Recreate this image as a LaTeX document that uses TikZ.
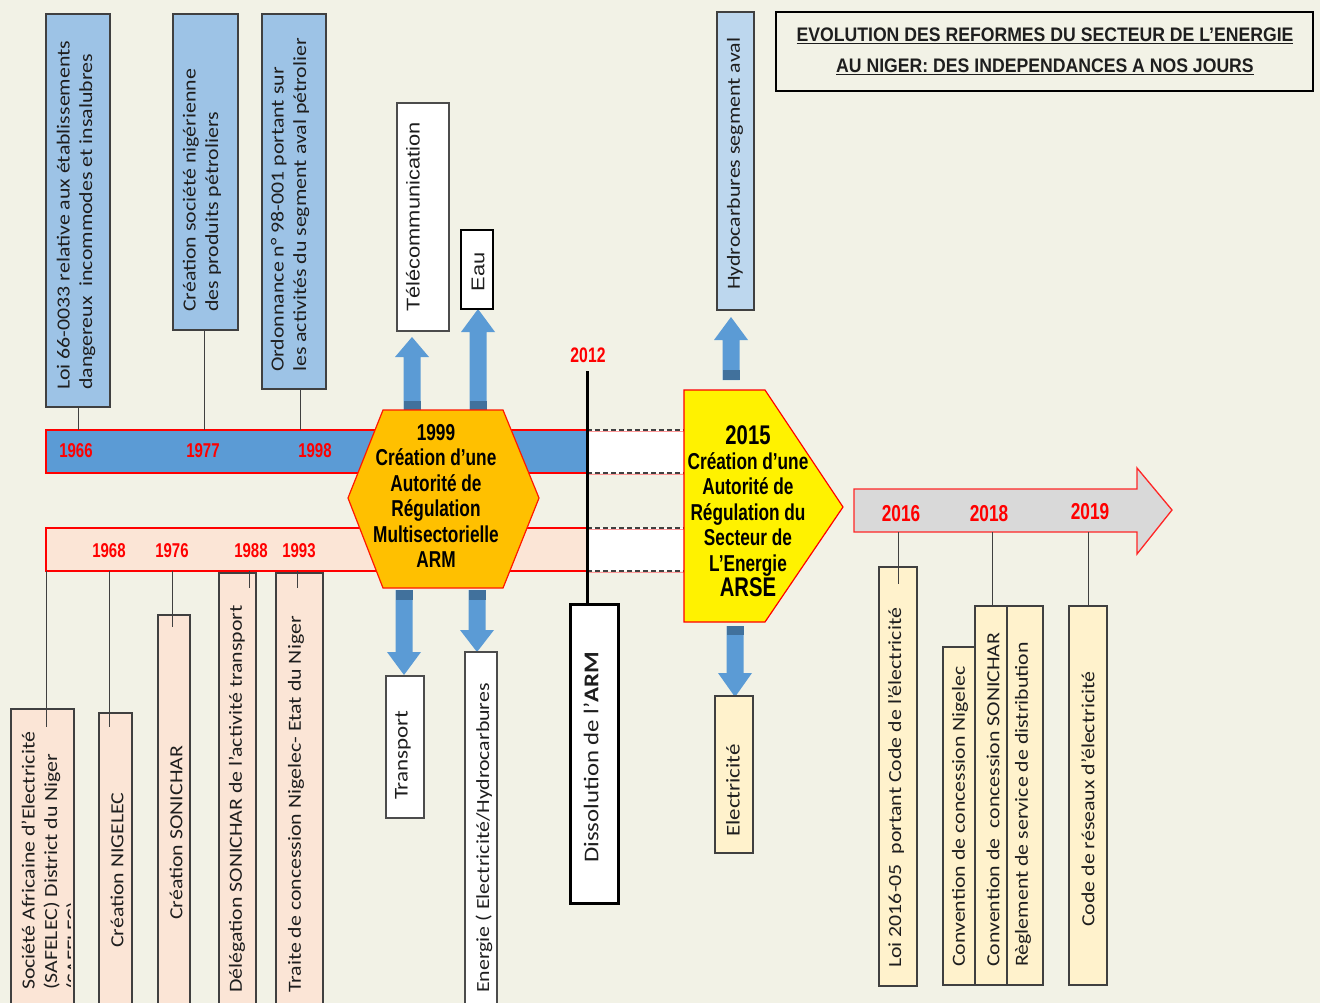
\documentclass[tikz,border=0pt]{standalone}
\usepackage{fontspec}
\setmainfont{Liberation Sans}
\newfontfamily\rotf[FakeStretch=1.18]{Carlito}
\newfontfamily\rotarial[FakeStretch=1.18]{Liberation Sans}
\newfontfamily\narrowf[FakeStretch=0.75]{Liberation Sans}
\newfontfamily\titlef[FakeStretch=0.9]{Liberation Sans}
\definecolor{bgc}{RGB}{242,242,230}
\definecolor{barblue}{RGB}{91,155,213}
\definecolor{arrowblue}{RGB}{91,155,213}
\definecolor{arrowdark}{RGB}{65,113,156}
\definecolor{lblue}{RGB}{157,195,230}
\definecolor{llblue}{RGB}{189,215,238}
\definecolor{barpink}{RGB}{251,229,214}
\definecolor{creamc}{RGB}{255,242,204}
\definecolor{hexor}{RGB}{255,192,0}
\definecolor{redc}{RGB}{255,0,0}
\definecolor{bordc}{RGB}{64,64,64}
\definecolor{txtc}{RGB}{30,30,30}
\definecolor{grayarr}{RGB}{217,217,217}
\newcommand\mkbox[6]{\node[#1, minimum width={(#5)-(#3)}, minimum height={(#6)-(#4)}] (#2) at ({((#3)+(#5))/2},{((#4)+(#6))/2}) {};}
\newcommand\blockarr[5]{%
  \fill[arrowblue] ({#1-8.5},#2) -- ({#1-8.5},#3) -- ({#1-17},#3) -- (#1,#4) -- ({#1+17},#3) -- ({#1+8.5},#3) -- ({#1+8.5},#2) -- cycle;
  \fill[arrowdark] ({#1-8.5},#2) rectangle ({#1+8.5},#5);}
\begin{document}
\begin{tikzpicture}[x=1pt,y=-1pt,
  boxbase/.style={inner sep=0pt, outer sep=0pt, draw=bordc, line width=1.1pt},
  lbbox/.style={boxbase, fill=lblue},
  pkbox/.style={boxbase, fill=barpink},
  crbox/.style={boxbase, fill=creamc},
  whbox/.style={boxbase, fill=white, draw=black!70},
  bar/.style={inner sep=0pt, outer sep=0pt, draw=redc, line width=1.3pt},
  conn/.style={draw=bordc, line width=1pt},
  dashline/.style={draw=black!75, line width=1.2pt, dash pattern=on 5pt off 3pt},
  rottxt/.style={rotate=90, inner sep=0pt, align=left, anchor=west, text=txtc, font=\rotf\fontsize{18.5}{22.5}\selectfont},
  rotar/.style={rotate=90, inner sep=0pt, align=left, anchor=west, text=txtc, font=\rotarial\fontsize{18.5}{22.5}\selectfont},
  yrlab/.style={inner sep=0pt, text=redc, font=\narrowf\bfseries\fontsize{20}{22}\selectfont},
  yrbig/.style={inner sep=0pt, text=redc, font=\narrowf\bfseries\fontsize{23}{25}\selectfont},
  hextxt/.style={inner sep=0pt, align=center, text=black, font=\narrowf\bfseries\fontsize{23}{25.4}\selectfont},
  titletxt/.style={inner sep=0pt, text=txtc, font=\titlef\bfseries\fontsize{19.6}{22}\selectfont}
]
\useasboundingbox (0,0) rectangle (1320,1003);
\clip (0,0) rectangle (1320,1003);
\fill[bgc] (0,0) rectangle (1320,1003);

% ---------- bars ----------
\mkbox{bar, fill=barblue}{topbar}{46}{430}{587}{473}
\mkbox{bar, fill=barpink}{lowbar}{46}{528}{587}{571}
\mkbox{fill=white, inner sep=0pt, outer sep=0pt}{gap1}{587}{430}{684}{473}
\mkbox{fill=white, inner sep=0pt, outer sep=0pt}{gap2}{587}{528}{684}{571}
\draw[redc!40, line width=1pt] ([yshift=-1.5pt]gap1.north west) -- ([yshift=-1.5pt]gap1.north east);
\draw[redc!40, line width=1pt] ([yshift=-1.5pt]gap1.south west) -- ([yshift=-1.5pt]gap1.south east);
\draw[redc!40, line width=1pt] ([yshift=-1.5pt]gap2.north west) -- ([yshift=-1.5pt]gap2.north east);
\draw[redc!40, line width=1pt] ([yshift=-1.5pt]gap2.south west) -- ([yshift=-1.5pt]gap2.south east);
\draw[dashline] (gap1.north west) -- (gap1.north east);
\draw[dashline] (gap1.south west) -- (gap1.south east);
\draw[dashline] (gap2.north west) -- (gap2.north east);
\draw[dashline] (gap2.south west) -- (gap2.south east);

\node[yrlab] (y1966) at (76,451) {1966};
\node[yrlab] (y1977) at (203,451) {1977};
\node[yrlab] (y1998) at (315,451) {1998};
\node[yrlab] (y1968) at (109,551) {1968};
\node[yrlab] (y1976) at (172,551) {1976};
\node[yrlab] (y1988) at (251,551) {1988};
\node[yrlab] (y1993) at (299,551) {1993};

% ---------- top boxes ----------
\mkbox{lbbox}{b66}{46}{14}{110}{407}
\mkbox{lbbox}{b77}{173}{14}{238}{330}
\mkbox{lbbox}{b98}{262}{14}{326}{389}
\draw[conn] (b66.south) -- (b66.south |- topbar.north);
\draw[conn] ([xshift=-1.5pt]b77.south) -- ([xshift=-1.5pt]b77.south |- topbar.north);
\draw[conn] ([xshift=6pt]b98.south) -- ([xshift=6pt]b98.south |- topbar.north);
\node[rottxt] (t66) at (76,390) {Loi 66-0033 relative aux établissements\\dangereux\ \ incommodes et insalubres};
\node[rottxt] (t77) at (202,312) {Création société nigérienne\\des produits pétroliers};
\node[rottxt] (t98) at (290,372) {Ordonnance n° 98-001 portant sur\\les activités du segment aval pétrolier};

% ---------- lower left boxes ----------
\mkbox{pkbox}{bsaf}{11}{709}{74}{1012}
\mkbox{pkbox}{bnig}{99}{713}{132}{1012}
\mkbox{pkbox}{bsoni}{158}{615}{190}{1012}
\mkbox{pkbox}{bdel}{219}{573}{256}{1012}
\mkbox{pkbox}{btra}{276}{573}{323}{1012}
\draw[conn] (lowbar.south west) -- ([yshift=-18pt]lowbar.south west |- bsaf.north);
\draw[conn] (y1968.south |- lowbar.south) -- ([yshift=-14pt]y1968.south |- bnig.north);
\draw[conn] (y1976.south |- lowbar.south) -- ([yshift=-12pt]y1976.south |- bsoni.north);
\draw[conn] ([xshift=-2pt]y1988.south |- lowbar.south) -- ([xshift=-2pt,yshift=-15pt]y1988.south |- bdel.north);
\draw[conn] ([xshift=-2pt]y1993.south |- lowbar.south) -- ([xshift=-2pt,yshift=-15pt]y1993.south |- btra.north);
\begin{scope}
  \clip (11,700) rectangle (70,1003);
  \node[rottxt] (tsaf) at (52,990) {Société Africaine d’Electricité\\(SAFELEC) District du Niger\\(SAFELEC)};
\end{scope}
\node[rottxt] (tnig) at (117,948) {Création NIGELEC};
\node[rottxt] (tsoni) at (176,920) {Création SONICHAR};
\node[rottxt] (tdel) at (237,993) {Délégation SONICHAR de l’activité transport};
\node[rottxt] (ttra) at (296,993) {Traite de concession Nigelec- Etat du Niger};

% ---------- ARM arrows and boxes ----------
\blockarr{412}{410}{357}{337}{401}
\blockarr{478}{410}{332}{309}{401}
\blockarr{404}{590}{652}{675}{600}
\blockarr{477}{590}{630}{652}{600}
\mkbox{whbox}{btel}{397}{103}{449}{331}
\mkbox{whbox, draw=black}{beau}{461}{230}{493}{309}
\mkbox{whbox}{btrans}{386}{676}{424}{818}
\mkbox{whbox}{bener}{465}{652}{497}{1012}
\node[rotar] (ttel) at (413,312) {Télécommunication};
\node[rotar, anchor=center] (teau) at (478,272) {Eau};
\node[rottxt, font=\rotf\fontsize{19.5}{22}\selectfont] (ttrans) at (403,800) {Transport};
\node[rottxt] (tener) at (484,993) {Energie ( Electricité/Hydrocarbures};

% ---------- hexagon ----------
\draw[fill=hexor, draw=red!80!orange, line width=1.2pt] (383,410) -- (503,410) -- (539,498) -- (503,588) -- (383,588) -- (348,498) -- cycle;
\node[hextxt] (hex) at (436,496) {1999\\Création d’une\\Autorité de\\Régulation\\Multisectorielle\\ARM};

% ---------- 2012 ----------
\node[yrlab, font=\narrowf\bfseries\fontsize{21}{23}\selectfont] (y2012) at (588,355) {2012};
\mkbox{whbox, draw=black, line width=3pt}{diss}{570}{604}{618}{903}
\coordinate (l2012) at (587,371);
\draw[line width=3pt] (l2012) -- (l2012 |- diss.north);
\node[rottxt, font=\rotf\fontsize{21}{24}\selectfont] (tdiss) at (591,863) {Dissolution de l’\textbf{ARM}};

% ---------- 2015 pentagon ----------
\blockarr{731}{380}{340}{317}{370}
\blockarr{735}{626}{673}{697}{635}
\mkbox{boxbase, fill=llblue}{bhyd}{717}{12}{754}{310}
\mkbox{crbox}{belec}{715}{696}{753}{853}
\node[rottxt] (thyd) at (735,290) {Hydrocarbures segment aval};
\node[rottxt, font=\rotf\fontsize{19.5}{22}\selectfont] (telec) at (733,837) {Electricité};
\draw[fill=yellow, draw=redc, line width=1.2pt] (684,390) -- (765,390) -- (843,507) -- (765,622) -- (684,622) -- cycle;
\node[hextxt] (pent) at (748,511) {{\fontsize{27}{27}\selectfont 2015}\\Création d’une\\Autorité de\\Régulation du\\Secteur de\\L’Energie\\{\fontsize{27}{27}\selectfont ARSE}};

% ---------- right arrow ----------
\draw[fill=grayarr, draw=redc!85, line width=1.3pt] (854,489) -- (1137,489) -- (1137,468) -- (1172,510) -- (1137,554) -- (1137,532) -- (854,532) -- cycle;
\coordinate (shaftb) at (854,532);
\node[yrbig] (y2016) at (901,514) {2016};
\node[yrbig] (y2018) at (989,514) {2018};
\node[yrbig] (y2019) at (1090,512) {2019};

\mkbox{crbox}{bloi}{879}{567}{917}{986}
\mkbox{crbox}{bcnig}{943}{647}{975}{985}
\mkbox{crbox}{bcson}{975}{606}{1007}{985}
\mkbox{crbox}{breg}{1007}{606}{1043}{985}
\mkbox{crbox}{bcode}{1069}{606}{1107}{985}
\draw[conn] ([xshift=-3pt]y2016.south |- shaftb) -- ([xshift=-3pt,yshift=-17pt]y2016.south |- bloi.north);
\draw[conn] ([xshift=3pt]y2018.south |- shaftb) -- ([xshift=3pt]y2018.south |- bcson.north);
\draw[conn] ([xshift=-2pt]y2019.south |- shaftb) -- ([xshift=-2pt]y2019.south |- bcode.north);
\node[rottxt] (tloi) at (896,968) {Loi 2016-05\ \ portant Code de l’électricité};
\node[rottxt] (tcnig) at (960,967) {Convention de concession Nigelec};
\node[rottxt] (tcson) at (993,967) {Convention de\ \ concession SONICHAR};
\node[rottxt] (treg) at (1023,967) {Règlement de service de distribution};
\node[rottxt] (tcode) at (1088,927) {Code de réseaux d’électricité};

% ---------- title ----------
\mkbox{draw=black, line width=1.2pt, inner sep=0pt, outer sep=0pt}{titlebox}{776}{12}{1313}{91}
\node[titletxt] (title1) at (1045,36) {\underline{EVOLUTION DES REFORMES DU SECTEUR DE L’ENERGIE}};
\node[titletxt] (title2) at (1045,67) {\underline{AU NIGER: DES INDEPENDANCES A NOS JOURS}};
\end{tikzpicture}
\end{document}
